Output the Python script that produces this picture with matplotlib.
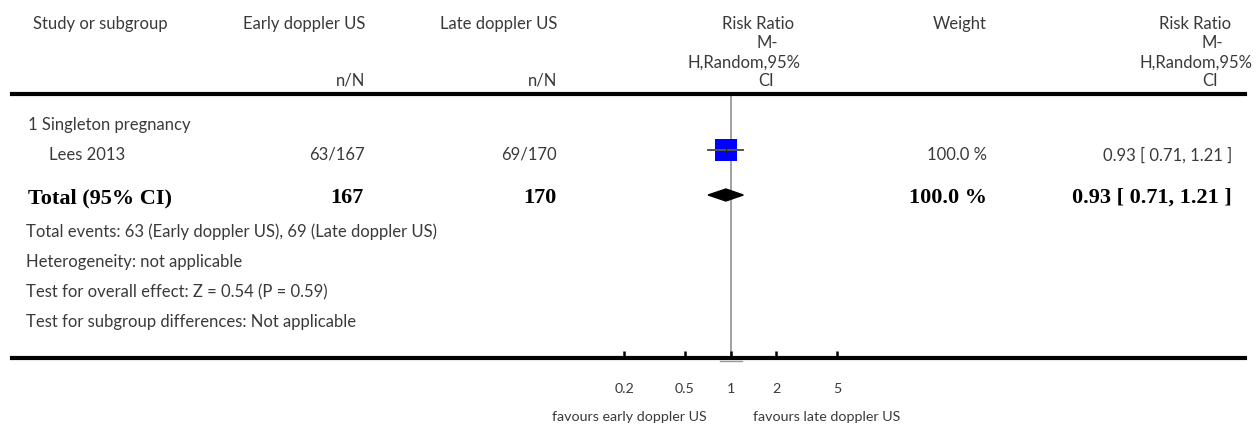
import matplotlib
matplotlib.use("Agg")
import matplotlib.pyplot as plt
import numpy as np

# ---- data ----
group_label = "1 Singleton pregnancy"
studies = ["Lees 2013"]
early_events = [63]
early_total = [167]
late_events = [69]
late_total = [170]
rr = [0.93]
ci_low = [0.71]
ci_high = [1.21]
weights = [100.0]
total_rr = 0.93
total_low = 0.71
total_high = 1.21
total_early = 167
total_late = 170
total_weight = 100.0
footnotes = [
    "Total events: 63 (Early doppler US), 69 (Late doppler US)",
    "Heterogeneity: not applicable",
    "Test for overall effect: Z = 0.54 (P = 0.59)",
    "Test for subgroup differences: Not applicable",
]
tick_values = [0.2, 0.5, 1, 2, 5]
tick_labels = ["0.2", "0.5", "1", "2", "5"]
favours_left = "favours early doppler US"
favours_right = "favours late doppler US"

# ---- layout ----
W, H = 1259, 425
fig = plt.figure(figsize=(W / 100, H / 100), dpi=100)
LIGHT = dict(family=["Lato", "DejaVu Sans"], weight="normal", fontsize=12.0, color="#3a3a3a")
SMALL = dict(LIGHT, fontsize=10.3)
BOLD = dict(family=["Liberation Serif", "DejaVu Serif"], weight="bold", fontsize=16, color="#000000")

ax = fig.add_axes([0, 0, 1, 1])
ax.set_xlim(0, W)
ax.set_ylim(H, 0)
ax.axis("off")

# forest axes between the two thick rules
x0, x1 = 12, 1245
y_top, y_bot = 94, 358
px_per_dec = 152.0
x_one = 730.7
fax = fig.add_axes([x0 / W, 1 - y_bot / H, (x1 - x0) / W, (y_bot - y_top) / H])
fax.patch.set_alpha(0)
fax.set_xscale("log")
fax.set_xlim(10 ** ((x0 - x_one) / px_per_dec), 10 ** ((x1 - x_one) / px_per_dec))
fax.set_ylim(y_bot, y_top)
for s in ["left", "right"]:
    fax.spines[s].set_visible(False)
for s in ["top", "bottom"]:
    fax.spines[s].set_linewidth(3.0)
    fax.spines[s].set_color("black")
fax.set_yticks([])
fax.xaxis.set_minor_locator(matplotlib.ticker.NullLocator())
fax.set_xticks(tick_values)
fax.set_xticklabels(tick_labels, **SMALL)
fax.tick_params(axis="x", direction="in", length=5, width=1.8, pad=18, color="black")

# reference line at 1
fax.plot([1, 1], [y_top + 2, y_bot - 1], color="#9a9a9a", lw=1.3, zorder=1)
fax.plot([0.85, 1.186], [y_bot + 3, y_bot + 3], color="#9a9a9a", lw=1.0, clip_on=False)

row_study = 150
row_total = 195
for i in range(len(studies)):
    fax.plot([ci_low[i], ci_high[i]], [row_study, row_study], color="#555555", lw=1.4, zorder=3)
    fax.plot([rr[i]], [row_study], marker="s", markersize=15.8 * np.sqrt(weights[i] / 100.0),
             color="#0000ff", markeredgewidth=0, zorder=2)
    fax.plot([rr[i], rr[i]], [row_study - 2, row_study + 2], color="#222222", lw=0.8, zorder=4)

dx = [total_low, total_rr, total_high, total_rr]
dy = [row_total, row_total - 6, row_total, row_total + 6]
fax.fill(dx, dy, color="black", zorder=3)

# ---- header text ----
ax.text(33, 24, "Study or subgroup", ha="left", va="center", **LIGHT)
ax.text(365, 24, "Early doppler US", ha="right", va="center", **LIGHT)
ax.text(557, 24, "Late doppler US", ha="right", va="center", **LIGHT)
ax.text(365, 80, "n/N", ha="right", va="center", **LIGHT)
ax.text(557, 80, "n/N", ha="right", va="center", **LIGHT)
ax.text(960, 24, "Weight", ha="center", va="center", **LIGHT)
hdr_lines = ["Risk Ratio", "M-", "H,Random,95%", "CI"]
hdr_y = [24, 43, 63, 81]
mid_cx = [758, 767, 744, 766]
right_cx = [1195, 1212, 1196, 1210]
for t, yy, cm, cr in zip(hdr_lines, hdr_y, mid_cx, right_cx):
    ax.text(cm, yy, t, ha="center", va="center", **LIGHT)
    ax.text(cr, yy, t, ha="center", va="center", **LIGHT)

# ---- body ----
ax.text(28, 125, group_label, ha="left", va="center", **LIGHT)
for i, s in enumerate(studies):
    ax.text(49, row_study + 5, s, ha="left", va="center", **LIGHT)
    ax.text(365, row_study + 5, f"{early_events[i]}/{early_total[i]}", ha="right", va="center", **LIGHT)
    ax.text(557, row_study + 5, f"{late_events[i]}/{late_total[i]}", ha="right", va="center", **LIGHT)
    ax.text(987, row_study + 5, f"{weights[i]:.1f} %", ha="right", va="center", **LIGHT)
    ax.text(1232, row_study + 5, f"{rr[i]:.2f} [ {ci_low[i]:.2f}, {ci_high[i]:.2f} ]",
            ha="right", va="center", **LIGHT)

ax.text(28, 198, "Total (95% CI)", ha="left", va="center", **BOLD)
ax.text(364, 198, f"{total_early}", ha="right", va="center", **BOLD)
ax.text(557, 198, f"{total_late}", ha="right", va="center", **BOLD)
ax.text(987, 198, f"{total_weight:.1f} %", ha="right", va="center", **BOLD)
ax.text(1232, 198, f"{total_rr:.2f} [ {total_low:.2f}, {total_high:.2f} ]", ha="right", va="center", **BOLD)

for k, line in enumerate(footnotes):
    ax.text(26, 232 + 30 * k, line, ha="left", va="center", **LIGHT)

ax.text(707, 417, favours_left, ha="right", va="center", **SMALL)
ax.text(753, 417, favours_right, ha="left", va="center", **SMALL)

fig.savefig("out.png", dpi=100)
